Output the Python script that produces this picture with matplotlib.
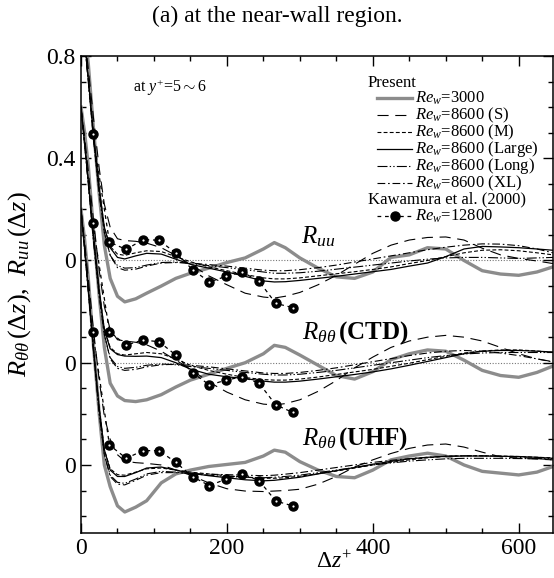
"""
Two-point correlations R_uu and R_theta_theta at the near-wall region
(stacked curves, each group shifted by 0.4)
"""

import matplotlib
matplotlib.use('Agg')
import matplotlib.pyplot as plt
from matplotlib.lines import Line2D
from matplotlib.ticker import MultipleLocator, FixedLocator, FixedFormatter

plt.rcParams['font.family'] = 'Liberation Serif'
plt.rcParams['mathtext.fontset'] = 'custom'
plt.rcParams['mathtext.rm'] = 'Liberation Serif'
plt.rcParams['mathtext.it'] = 'Liberation Serif:italic'
plt.rcParams['mathtext.bf'] = 'Liberation Serif:bold'

# separation (in curve units) between the stacked groups
offset_uu = 0.8
offset_ctd = 0.4
offset_uhf = 0.0

# common separation grid for the present DNS curves
dz = [0, 5, 10, 17, 25, 32, 40, 50, 60, 75, 90, 110, 130, 150, 175, 200, 225,
      250, 265, 280, 300, 325, 350, 375, 400, 425, 450, 475, 500, 525, 550,
      575, 600, 625, 647]

# ---- R_uu ----
uu_3000 = [1.0, 0.9, 0.77, 0.52, 0.26, 0.06, -0.07, -0.14, -0.162, -0.15, -0.128, -0.1,
           -0.07, -0.05, -0.03, -0.008, 0.01, 0.045, 0.07, 0.05, 0.01, -0.03, -0.064,
           -0.07, -0.045, 0.012, 0.022, 0.05, 0.045, 0.0, -0.04, -0.053, -0.058, -0.045, -0.025]
uu_s = [1.0, 0.88, 0.75, 0.56, 0.36, 0.22, 0.13, 0.085, 0.078, 0.075, 0.068, 0.05, 0.02,
        -0.015, -0.06, -0.095, -0.128, -0.143, -0.147, -0.14, -0.125, -0.095, -0.058,
        -0.015, 0.028, 0.06, 0.08, 0.09, 0.092, 0.08, 0.048, 0.022, 0.008, -0.002, -0.012]
uu_m = [1.0, 0.86, 0.71, 0.5, 0.28, 0.13, 0.055, 0.025, 0.02, 0.03, 0.038, 0.035, 0.015,
        -0.005, -0.025, -0.04, -0.055, -0.068, -0.072, -0.072, -0.068, -0.06, -0.052,
        -0.044, -0.035, -0.025, -0.012, 0.0, 0.015, 0.03, 0.04, 0.042, 0.038, 0.03, 0.022]
uu_large = [1.0, 0.86, 0.71, 0.5, 0.28, 0.13, 0.05, 0.012, 0.006, 0.018, 0.028, 0.025, 0.005,
            -0.015, -0.03, -0.045, -0.062, -0.08, -0.084, -0.083, -0.078, -0.07, -0.062,
            -0.053, -0.044, -0.035, -0.022, -0.01, 0.015, 0.045, 0.055, 0.053, 0.05, 0.045, 0.04]
uu_long = [1.0, 0.85, 0.7, 0.48, 0.26, 0.11, 0.02, -0.02, -0.03, -0.028, -0.018, -0.008,
           -0.006, -0.012, -0.02, -0.028, -0.036, -0.045, -0.05, -0.05, -0.048, -0.042,
           -0.034, -0.026, -0.018, -0.01, -0.002, 0.005, 0.01, 0.012, 0.012, 0.01, 0.008, 0.01, 0.012]
uu_xl = [1.0, 0.85, 0.7, 0.48, 0.26, 0.11, 0.02, -0.028, -0.038, -0.034, -0.022, -0.01,
         -0.008, -0.01, -0.016, -0.022, -0.03, -0.038, -0.04, -0.04, -0.036, -0.028, -0.018,
         -0.006, 0.006, 0.018, 0.03, 0.042, 0.052, 0.06, 0.065, 0.064, 0.058, 0.045, 0.03]

# ---- R_tt (CTD) ----
ctd_3000 = [1.0, 0.9, 0.77, 0.52, 0.26, 0.06, -0.08, -0.13, -0.148, -0.152, -0.145, -0.125,
            -0.095, -0.068, -0.045, -0.022, 0.0, 0.035, 0.068, 0.06, 0.03, -0.01, -0.05,
            -0.064, -0.035, 0.012, 0.035, 0.05, 0.045, 0.01, -0.03, -0.05, -0.057, -0.038, -0.013]
ctd_s = [1.0, 0.88, 0.75, 0.56, 0.36, 0.22, 0.13, 0.09, 0.085, 0.08, 0.07, 0.045, 0.01,
         -0.025, -0.075, -0.115, -0.145, -0.162, -0.165, -0.16, -0.145, -0.112, -0.07,
         -0.02, 0.022, 0.06, 0.085, 0.1, 0.107, 0.1, 0.085, 0.06, 0.035, 0.015, 0.004]
ctd_m = [1.0, 0.86, 0.71, 0.5, 0.28, 0.13, 0.06, 0.035, 0.03, 0.035, 0.04, 0.035, 0.015,
         -0.01, -0.03, -0.045, -0.058, -0.066, -0.068, -0.068, -0.064, -0.056, -0.046,
         -0.036, -0.026, -0.014, -0.002, 0.012, 0.025, 0.038, 0.046, 0.05, 0.05, 0.046, 0.04]
ctd_large = [1.0, 0.86, 0.71, 0.5, 0.28, 0.13, 0.055, 0.032, 0.026, 0.025, 0.026, 0.02, 0.0,
             -0.025, -0.045, -0.055, -0.062, -0.072, -0.076, -0.076, -0.072, -0.064, -0.055,
             -0.046, -0.036, -0.024, -0.01, 0.005, 0.02, 0.035, 0.045, 0.048, 0.048, 0.045, 0.042]
ctd_long = [1.0, 0.85, 0.7, 0.48, 0.26, 0.11, 0.02, -0.015, -0.022, -0.018, -0.01, -0.005,
            -0.008, -0.015, -0.022, -0.03, -0.038, -0.045, -0.048, -0.048, -0.045, -0.038,
            -0.03, -0.02, -0.01, 0.0, 0.01, 0.02, 0.028, 0.034, 0.038, 0.04, 0.04, 0.04, 0.04]
ctd_xl = [1.0, 0.85, 0.7, 0.48, 0.26, 0.11, 0.015, -0.022, -0.03, -0.026, -0.016, -0.008,
          -0.006, -0.01, -0.016, -0.024, -0.032, -0.04, -0.042, -0.042, -0.038, -0.03, -0.02,
          -0.008, 0.004, 0.016, 0.028, 0.038, 0.045, 0.048, 0.045, 0.038, 0.028, 0.015, 0.003]

# ---- R_tt (UHF) ----
uhf_3000 = [1.0, 0.88, 0.73, 0.47, 0.2, 0.0, -0.085, -0.16, -0.184, -0.165, -0.14, -0.07,
            -0.035, -0.02, -0.006, 0.002, 0.01, 0.035, 0.058, 0.05, 0.013, -0.02, -0.045,
            -0.05, -0.02, 0.02, 0.035, 0.046, 0.035, 0.0, -0.025, -0.032, -0.039, -0.028, -0.006]
uhf_s = [1.0, 0.87, 0.73, 0.53, 0.33, 0.19, 0.1, 0.04, 0.015, 0.009, 0.006, 0.0, -0.02,
         -0.04, -0.07, -0.093, -0.102, -0.104, -0.102, -0.1, -0.095, -0.075, -0.045, -0.008,
         0.02, 0.045, 0.065, 0.078, 0.082, 0.07, 0.05, 0.032, 0.026, 0.023, 0.02]
uhf_m = [1.0, 0.85, 0.69, 0.46, 0.22, 0.06, -0.015, -0.038, -0.04, -0.028, -0.015, -0.012,
         -0.02, -0.028, -0.035, -0.042, -0.048, -0.052, -0.052, -0.05, -0.044, -0.034, -0.024,
         -0.012, 0.0, 0.01, 0.02, 0.028, 0.034, 0.036, 0.036, 0.035, 0.033, 0.03, 0.028]
uhf_large = [1.0, 0.85, 0.69, 0.46, 0.22, 0.06, -0.02, -0.045, -0.045, -0.03, -0.012, -0.008,
             -0.02, -0.032, -0.042, -0.05, -0.058, -0.062, -0.06, -0.055, -0.048, -0.035,
             -0.022, -0.01, 0.003, 0.014, 0.024, 0.03, 0.034, 0.035, 0.035, 0.034, 0.033, 0.03, 0.026]
uhf_long = [1.0, 0.84, 0.68, 0.45, 0.2, 0.04, -0.04, -0.068, -0.072, -0.055, -0.035, -0.025,
            -0.028, -0.034, -0.04, -0.045, -0.048, -0.05, -0.048, -0.045, -0.04, -0.03, -0.02,
            -0.01, 0.0, 0.008, 0.015, 0.02, 0.024, 0.026, 0.026, 0.026, 0.025, 0.025, 0.025]
uhf_xl = [1.0, 0.84, 0.68, 0.45, 0.2, 0.04, -0.045, -0.075, -0.078, -0.06, -0.04, -0.03,
          -0.03, -0.033, -0.036, -0.038, -0.04, -0.042, -0.04, -0.036, -0.03, -0.02, -0.01,
          0.0, 0.01, 0.018, 0.025, 0.03, 0.034, 0.036, 0.036, 0.034, 0.03, 0.025, 0.02]

# ---- Kawamura et al. (2000), Re_w = 12800 ----
dz_kaw = [16, 39, 62, 85, 107, 130, 153, 176, 199, 221, 244, 267, 290]
kaw_uu = [0.496, 0.072, 0.043, 0.082, 0.079, 0.029, -0.036, -0.084, -0.062, -0.045, -0.081, -0.168, -0.184]
kaw_ctd = [0.547, 0.121, 0.069, 0.089, 0.082, 0.030, -0.039, -0.087, -0.068, -0.055, -0.080, -0.165, -0.194]
kaw_uhf = [0.52, 0.078, 0.026, 0.056, 0.056, 0.010, -0.046, -0.081, -0.055, -0.035, -0.061, -0.141, -0.160]

legend_labels = [r'$Re_w$=3000', r'$Re_w$=8600 (S)', r'$Re_w$=8600 (M)',
                 r'$Re_w$=8600 (Large)', r'$Re_w$=8600 (Long)', r'$Re_w$=8600 (XL)']

# line styles for the present cases (3000, S, M, Large, Long, XL)
GRAY = '#8c8c8c'
styles = [
    dict(color=GRAY, lw=2.4, ls='-'),
    dict(color='black', lw=0.8, ls=(0, (10, 6))),
    dict(color='black', lw=0.8, ls=(0, (3.5, 2))),
    dict(color='black', lw=0.9, ls='-'),
    dict(color='black', lw=0.8, ls=(0, (9, 2, 1.2, 2, 1.2, 2))),
    dict(color='black', lw=0.8, ls=(0, (7, 2.5, 1.5, 2.5))),
]
kaw_style = dict(color='black', lw=0.9, ls=(0, (3, 3)), marker='o', ms=6.5,
                 markerfacecolor='black', markeredgecolor='black')

W, H = 554, 578
fig = plt.figure(figsize=(W / 100, H / 100), dpi=100)
ax = fig.add_axes([81 / W, 1 - 532.7 / H, 472 / W, 476.7 / H])

groups = [
    (offset_uu, [uu_3000, uu_s, uu_m, uu_large, uu_long, uu_xl], kaw_uu),
    (offset_ctd, [ctd_3000, ctd_s, ctd_m, ctd_large, ctd_long, ctd_xl], kaw_ctd),
    (offset_uhf, [uhf_3000, uhf_s, uhf_m, uhf_large, uhf_long, uhf_xl], kaw_uhf),
]

# zero reference lines for the two upper groups
for off in (offset_uu, offset_ctd):
    ax.axhline(off, color='#777777', lw=0.8, ls=(0, (1, 1.5)), zorder=1)

for off, curves, kaw in groups:
    for vals, st in zip(curves, styles):
        ax.plot(dz, [v + off for v in vals], zorder=2, **st)
    ax.plot(dz_kaw, [v + off for v in kaw], zorder=3, **kaw_style)
    # tiny white centre of the symbols
    ax.plot(dz_kaw, [v + off for v in kaw], ls='none', marker='o', ms=1.6, mew=0,
            color='white', zorder=4)

ax.set_xlim(0, 647)
ax.set_ylim(-0.265, 1.6)

# ticks
ax.xaxis.set_major_locator(MultipleLocator(200))
ax.xaxis.set_minor_locator(MultipleLocator(50))
ax.yaxis.set_major_locator(FixedLocator([0, 0.4, 0.8, 1.2, 1.6]))
ax.yaxis.set_major_formatter(FixedFormatter(['0', '0', '0', '0.4', '0.8']))
ax.yaxis.set_minor_locator(MultipleLocator(0.1))
ax.tick_params(which='both', direction='in', top=True, right=True, labelsize=17, width=1)
ax.tick_params(which='major', length=7, pad=4)
ax.tick_params(which='minor', length=3.5)
for s in ax.spines.values():
    s.set_linewidth(1.1)

# curve labels
ax.text(325, 0.895, r'$R_{uu}$', fontsize=18, ha='center', va='center')
ax.text(303, 0.516, r'$R_{\theta\theta}\,\mathbf{(CTD)}$', fontsize=18, ha='left', va='center')
ax.text(303, 0.105, r'$R_{\theta\theta}\,\mathbf{(UHF)}$', fontsize=18, ha='left', va='center')

fig.text(133 / W, 1 - 88 / H, r'at $y^{+}$=5$\sim$6', fontsize=11.5, ha='left', va='center')

# title and axis labels
fig.text(277 / W, 1 - 16 / H, '(a) at the near-wall region.', fontsize=17, ha='center', va='center')
fig.text(334 / W, 1 - 562 / H, r'$\mathit{\Delta z}^{+}$', fontsize=17, ha='center', va='center')
fig.text(20 / W, 1 - 284 / H,
         r'$R_{\theta\theta}\,(\mathit{\Delta z}),\;\, R_{uu}\,(\mathit{\Delta z})$',
         fontsize=19, rotation=90, ha='center', va='center')

# hand-built legend (with the two group headers)
def px(x, y):
    return x / W, 1 - y / H

fs_leg = 12
fig.text(*px(368, 83), 'Present', fontsize=fs_leg, ha='left', va='center')
row_y = [98, 115, 132, 149, 166, 183]
for y, lab, st in zip(row_y, legend_labels, styles):
    x0, y0 = px(377, y)
    x1, _ = px(412, y)
    fig.add_artist(Line2D([x0, x1], [y0, y0], transform=fig.transFigure, **st))
    fig.text(*px(415, y), lab, fontsize=fs_leg, ha='left', va='center')
fig.text(*px(368, 199.5), 'Kawamura et al. (2000)', fontsize=fs_leg, ha='left', va='center')
x0, y0 = px(377, 216)
x1, _ = px(412, 216)
fig.add_artist(Line2D([x0, x1], [y0, y0], transform=fig.transFigure,
                      color='black', lw=0.9, ls=(0, (3, 3))))
fig.add_artist(Line2D([(x0 + x1) / 2], [y0], transform=fig.transFigure, ls='none',
                      marker='o', ms=6.5, color='black'))
fig.text(*px(415, 216), r'$Re_w$=12800', fontsize=fs_leg, ha='left', va='center')

fig.savefig('out.png', dpi=100)
